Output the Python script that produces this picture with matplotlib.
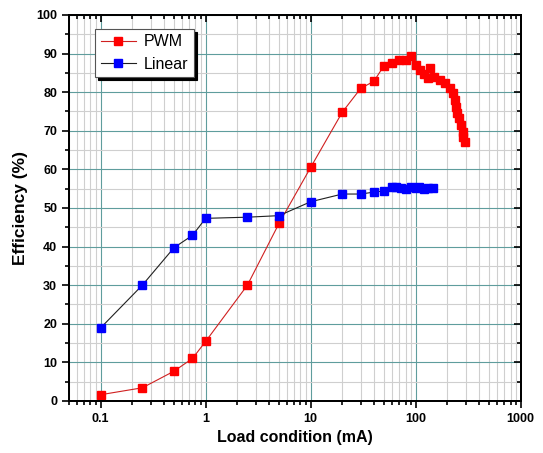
import matplotlib
matplotlib.use("Agg")
import matplotlib.pyplot as plt
from matplotlib.ticker import LogLocator, MultipleLocator, NullFormatter, FuncFormatter

plt.rcParams['font.family'] = ['Liberation Sans', 'DejaVu Sans']

# PWM converter efficiency
pwm_load = [0.1, 0.25, 0.5, 0.75, 1, 2.5, 5, 10, 20, 30, 40, 50, 60, 70, 80, 90,
            100, 110, 120, 130, 137, 150, 170, 190, 210, 225, 235, 240, 250, 260,
            270, 280, 285, 295]
pwm_eff = [1.6, 3.4, 7.7, 11.0, 15.4, 30.0, 46.0, 60.5, 74.8, 81.0, 82.8, 86.9,
           87.5, 88.3, 88.3, 89.3, 87.0, 85.7, 84.8, 83.6, 86.2, 84.0, 83.2, 82.3,
           81.0, 79.7, 78.0, 76.2, 74.5, 73.2, 71.5, 69.8, 68.5, 67.0]

# Linear regulator efficiency
lin_load = [0.1, 0.25, 0.5, 0.75, 1, 2.5, 5, 10, 20, 30, 40, 50, 60, 65, 72, 80,
            90, 100, 108, 120, 130, 147]
lin_eff = [18.9, 30.0, 39.7, 42.9, 47.3, 47.6, 48.0, 51.6, 53.6, 53.6, 54.1, 54.4,
           55.4, 55.3, 55.1, 54.8, 55.4, 55.2, 55.4, 54.8, 55.1, 55.1]

fig = plt.figure(figsize=(5.43, 4.53), dpi=100)
ax = fig.add_axes([0.127, 0.115, 0.832, 0.852])


def log_ticks(axis):
    axis.set_major_locator(LogLocator(base=10, numticks=10))
    axis.set_minor_locator(LogLocator(base=10, subs=range(2, 10), numticks=20))
    axis.set_minor_formatter(NullFormatter())


def lin_ticks(axis):
    axis.set_major_locator(MultipleLocator(10))
    axis.set_minor_locator(MultipleLocator(5))


ax.set_xscale('log')
ax.set_xlim(0.05, 1000)
ax.set_ylim(0, 100)
log_ticks(ax.xaxis)
ax.xaxis.set_major_formatter(FuncFormatter(lambda v, p: '%g' % v))
lin_ticks(ax.yaxis)

ax.grid(which='major', color='#5f9d9d', lw=0.8)
ax.grid(which='minor', color='#cfcfcf', lw=0.8)
ax.set_axisbelow(True)

ax.tick_params(which='both', direction='out', labelsize=9, width=1.2)
ax.tick_params(which='major', length=5)
ax.tick_params(which='minor', length=3)
for lab in ax.get_xticklabels() + ax.get_yticklabels():
    lab.set_fontweight('bold')

# mirrored inward ticks on top and right
top = ax.twiny()
top.set_xscale('log')
top.set_xlim(ax.get_xlim())
log_ticks(top.xaxis)
top.tick_params(which='both', direction='in', labeltop=False, width=1.2)
top.tick_params(which='major', length=5)
top.tick_params(which='minor', length=3)

right = ax.twinx()
right.set_ylim(ax.get_ylim())
lin_ticks(right.yaxis)
right.tick_params(which='both', direction='in', labelright=False, width=1.2)
right.tick_params(which='major', length=5)
right.tick_params(which='minor', length=3)
for a in (ax, top, right):
    for sp in a.spines.values():
        sp.set_linewidth(1.2)

ax.plot(pwm_load, pwm_eff, color='#d02020', lw=0.8, marker='s', ms=6,
        mfc='red', mec='red', label='PWM', zorder=3)
ax.plot(lin_load, lin_eff, color='#202020', lw=0.8, marker='s', ms=6,
        mfc='blue', mec='blue', label='Linear', zorder=3)

ax.set_xlabel('Load condition (mA)', fontsize=11.5, fontweight='bold')
ax.set_ylabel('Efficiency (%)', fontsize=12.5, fontweight='bold', labelpad=6)

leg = ax.legend(loc='upper left', bbox_to_anchor=(0.04, 0.985), fontsize=11.5,
                fancybox=False, shadow={'color': 'black', 'alpha': 1},
                framealpha=1, edgecolor='#555555', handlelength=2.2,
                borderpad=0.35, labelspacing=0.45, handletextpad=0.5)
leg.get_frame().set_linewidth(0.8)
leg.set_zorder(5)
top.set_zorder(ax.get_zorder() - 1) if False else None

fig.savefig('out.png', dpi=100)
